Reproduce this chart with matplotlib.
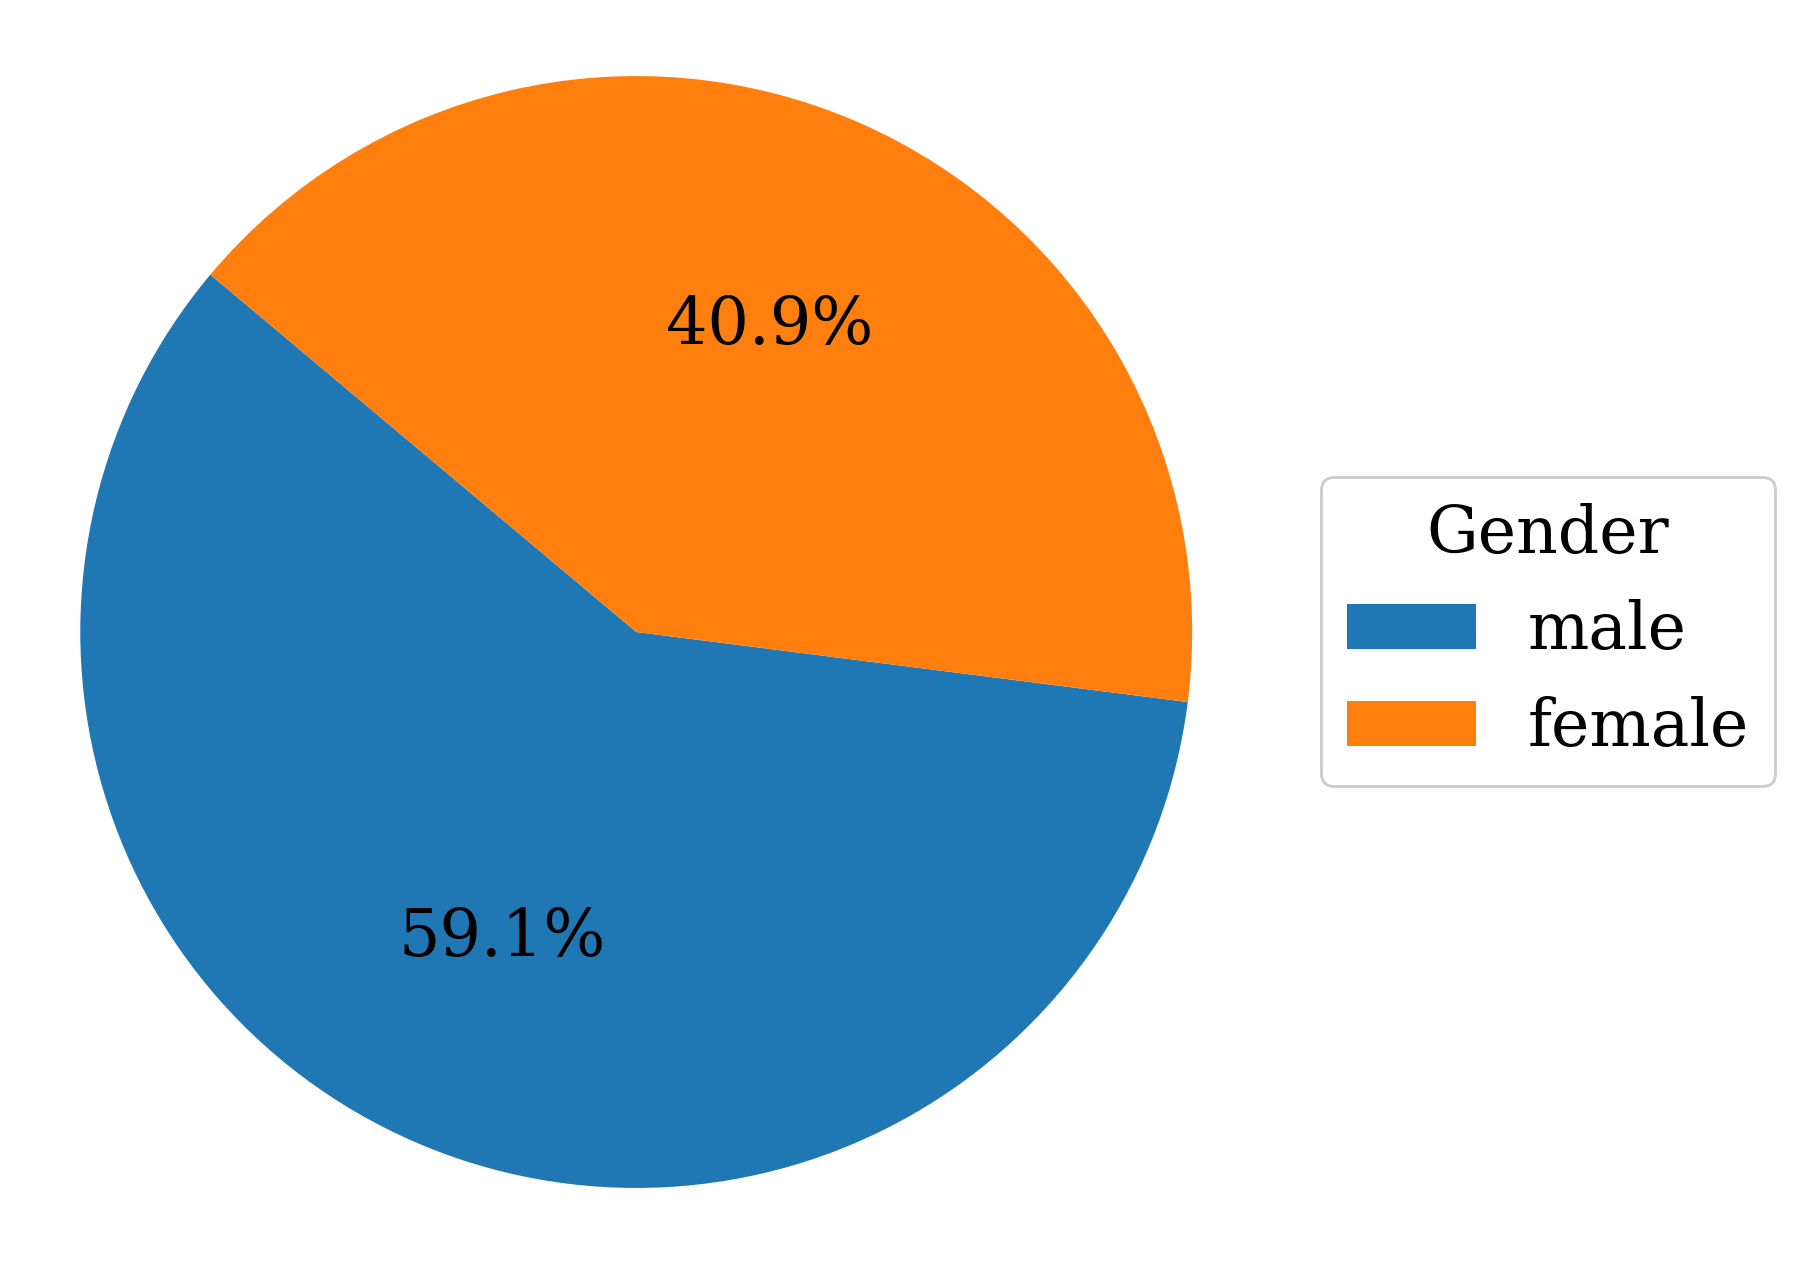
import matplotlib.pyplot as plt

plt.rcParams['font.family'] = 'DejaVu Serif'

labels = ['male', 'female']
shares = [59.1, 40.9]
colors = ['#1f77b4', '#ff7f0e']

fig = plt.figure(figsize=(9.04, 6.325), dpi=200)

# pie axes sized to the circle itself
ax = fig.add_axes([0.0444, 0.0609, 0.615, 0.879])
wedges, texts, autotexts = ax.pie(
    shares,
    colors=colors,
    startangle=140,
    autopct='%1.1f%%',
    pctdistance=0.6,
    textprops={'fontsize': 23.5},
)
ax.set_xlim(-1, 1)
ax.set_ylim(-1, 1)
ax.set_aspect('equal')

fig.legend(
    wedges, labels,
    title='Gender',
    loc='center left',
    bbox_to_anchor=(0.7306, 0.5008),
    borderaxespad=0,
    fontsize=23.3,
    title_fontsize=23.3,
    edgecolor='#cccccc',
    framealpha=1.0,
)

fig.savefig('out.png', dpi=200)
